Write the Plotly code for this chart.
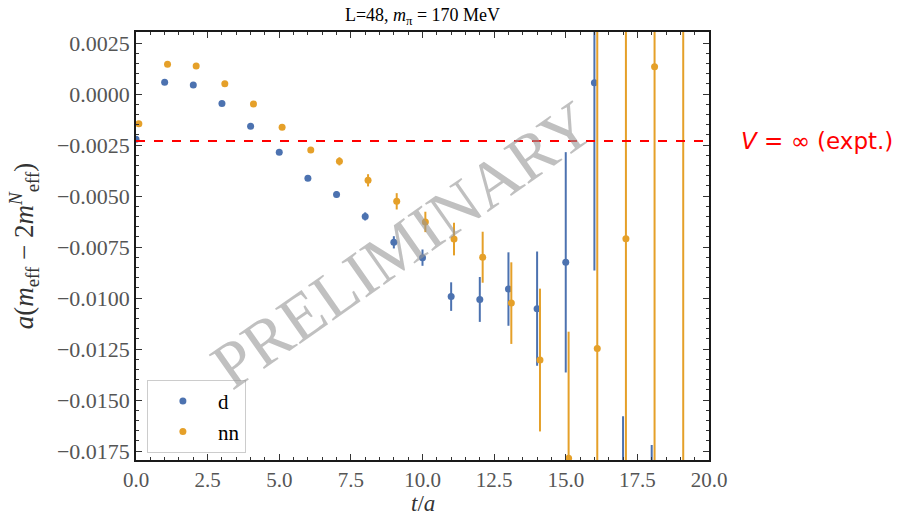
import plotly.graph_objects as go

t_d = [0, 1, 2, 3, 4, 5, 6, 7, 8, 9, 10, 11, 12, 13, 14, 15, 16, 17, 18]
d_val = [-0.00222, 0.00058, 0.00044, -0.00047, -0.00158, -0.00286, -0.00413, -0.00492, -0.00600,
         -0.00727, -0.00802, -0.00993, -0.01007, -0.00956, -0.01052, -0.00825, 0.00055, -0.0250, -0.0260]
d_err = [0.00005, 0.00005, 0.00005, 0.00006, 0.00007, 0.00008, 0.0001, 0.00015, 0.0002,
         0.0003, 0.0004, 0.0007, 0.0011, 0.0018, 0.0028, 0.0054, 0.0092, 0.0092, 0.0088]

t_nn = [0.1, 1.1, 2.1, 3.1, 4.1, 5.1, 6.1, 7.1, 8.1, 9.1, 10.1, 11.1, 12.1, 13.1, 14.1, 15.1, 16.1, 17.1, 18.1, 19.1]
nn_val = [-0.00146, 0.00146, 0.00137, 0.00050, -0.00049, -0.00163, -0.00275, -0.00330, -0.00423, -0.00526,
          -0.00627, -0.00711, -0.00800, -0.01025, -0.01304, -0.01785, -0.01247, -0.00709, 0.00134, 0.0060]
nn_err = [0.00005, 0.00005, 0.00005, 0.00006, 0.00007, 0.00008, 0.0001, 0.0002, 0.0003, 0.0004,
          0.0005, 0.0008, 0.00125, 0.0020, 0.0035, 0.0062, 0.018, 0.015, 0.022, 0.030]

expt_val = -0.0023
y_ticks = [0.0025, 0.0, -0.0025, -0.005, -0.0075, -0.01, -0.0125, -0.015, -0.0175]
x_ticks = [0.0, 2.5, 5.0, 7.5, 10.0, 12.5, 15.0, 17.5, 20.0]

blue = "#4C72B0"
orange = "#E5A029"
serif = "Liberation Serif, DejaVu Serif, serif"

fig = go.Figure()
fig.add_trace(go.Scatter(
    x=t_d, y=d_val, mode="markers", name="d",
    marker=dict(color=blue, size=7),
    error_y=dict(type="data", array=d_err, color=blue, thickness=2, width=0),
))
fig.add_trace(go.Scatter(
    x=t_nn, y=nn_val, mode="markers", name="nn",
    marker=dict(color=orange, size=7),
    error_y=dict(type="data", array=nn_err, color=orange, thickness=2, width=0),
))

fig.add_shape(type="line", xref="paper", x0=0, x1=1, yref="y", y0=expt_val, y1=expt_val,
              line=dict(color="red", width=2, dash="dash"))

fig.add_annotation(text="<i>V</i> = ∞ (expt.)", xref="paper", x=1.053, xanchor="left",
                   yref="y", y=expt_val, showarrow=False,
                   font=dict(family="DejaVu Sans, sans-serif", size=23, color="red"))

fig.add_annotation(text="PRELIMINARY", xref="x", x=9.3, yref="y", y=-0.0074,
                   showarrow=False, textangle=-35,
                   font=dict(family=serif, size=66, color="rgba(150,150,150,0.6)"))

fig.add_annotation(text="<i>t</i>/<i>a</i>", xref="paper", x=0.5, yref="paper", y=-0.1355,
                   yanchor="bottom", showarrow=False,
                   font=dict(family=serif, size=23, color="#333333"))

fig.update_layout(
    width=908, height=518,
    margin=dict(l=136, r=199, t=32, b=58),
    plot_bgcolor="white", paper_bgcolor="white",
    title=dict(text="L=48, <i>m</i><sub>π</sub> = 170 MeV", x=0.5, xref="paper", y=0.972,
               yanchor="middle", font=dict(family=serif, size=18, color="black")),
    showlegend=True,
    legend=dict(x=0.019, y=0.187, xanchor="left", yanchor="top",
                bgcolor="rgba(255,255,255,0.8)", bordercolor="#cccccc", borderwidth=1,
                font=dict(family=serif, size=21, color="black"), itemwidth=60),
    font=dict(family=serif, color="#444444"),
)

fig.update_xaxes(range=[0, 20], tickvals=x_ticks, tickformat=".1f", automargin=False,
                 ticks="inside", ticklen=6, tickwidth=1.2, tickcolor="#333333",
                 minor=dict(dtick=0.5, ticks="inside", ticklen=3, tickcolor="#333333"),
                 showline=True, linecolor="#1a1a1a", linewidth=1.5, mirror="ticks",
                 showgrid=False, zeroline=False,
                 tickfont=dict(family=serif, size=21, color="#555555"))
fig.update_yaxes(range=[-0.01794, 0.00304], tickvals=y_ticks, tickformat=".4f", automargin=False,
                 ticks="inside", ticklen=6, tickwidth=1.2, tickcolor="#333333",
                 minor=dict(dtick=0.0005, tick0=0, ticks="inside", ticklen=3, tickcolor="#333333"),
                 showline=True, linecolor="#1a1a1a", linewidth=1.5, mirror="ticks",
                 showgrid=False, zeroline=False,
                 tickfont=dict(family=serif, size=22, color="#555555"),
                 title=dict(text="<i>a</i>(<i>m</i><sub>eff</sub> − 2<i>m</i><sup><i>N</i></sup><sub>eff</sub>)",
                            font=dict(family=serif, size=27, color="#333333")))

fig.write_html("out.html")
